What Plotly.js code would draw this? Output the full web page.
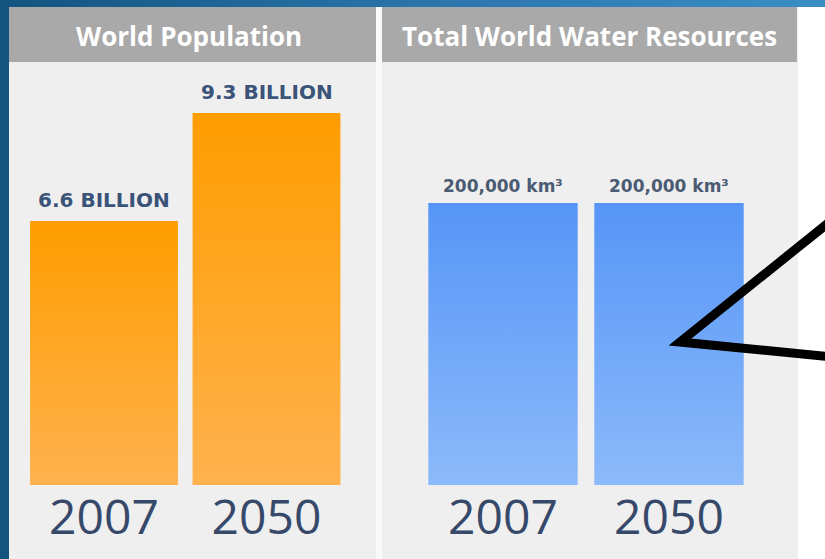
<!DOCTYPE html>
<html>
<head>
<meta charset="utf-8">
<script src="https://cdn.plot.ly/plotly-3.0.1.min.js"></script>
<style>
  html, body { margin: 0; padding: 0; background: #ffffff; }
  #chart { width: 825px; height: 559px; }
</style>
</head>
<body>
<div id="chart"></div>
<script>
// ---- data ----
const years = ['2007', '2050'];
const population = [6.6, 9.3];            // billions
const populationLabels = ['6.6 BILLION', '9.3 BILLION'];
const water = [200000, 200000];            // km³
const waterLabels = ['200,000 km³', '200,000 km³'];
const panelTitles = ['World Population', 'Total World Water Resources'];

// ---- helpers: pixel -> paper fraction ----
const W = 825, H = 559;
const px = x => x / W;
const py = y => 1 - y / H;
function rect(x0, y0, x1, y1, color, layer) {
  return { type: 'rect', xref: 'paper', yref: 'paper', x0: px(x0), x1: px(x1), y0: py(y1), y1: py(y0),
           fillcolor: color, line: { width: 0 }, layer: layer || 'below' };
}

const ORANGE_KEY = 'rgb(255, 165, 20)';
const BLUE_KEY = 'rgb(100, 160, 250)';
const FRAME_KEY = 'rgb(30, 100, 150)';

const traces = [
  { type: 'bar', x: years, y: population, xaxis: 'x', yaxis: 'y', width: 0.91,
    marker: { color: ORANGE_KEY, line: { width: 0 } }, hoverinfo: 'skip' },
  { type: 'bar', x: years, y: water, xaxis: 'x2', yaxis: 'y2', width: 0.9,
    marker: { color: BLUE_KEY, line: { width: 0 } }, hoverinfo: 'skip' }
];

const yearFont = { family: 'Open Sans, Noto Sans, sans-serif', size: 48, color: '#37496a' };

const annotations = [];
panelTitles.forEach((t, i) => {
  annotations.push({ xref: 'paper', yref: 'paper', x: px(i === 0 ? 189 : 589), y: py(36),
    text: '<b>' + t + '</b>', showarrow: false, xanchor: 'center', yanchor: 'middle',
    font: { family: 'Open Sans, sans-serif', size: 26, color: '#ffffff' } });
});
years.forEach((yr, i) => {
  annotations.push({ xref: 'x', yref: 'y', x: i, y: population[i], xanchor: 'center', yanchor: 'middle', yshift: 21,
    text: '<b>' + populationLabels[i] + '</b>', showarrow: false,
    font: { family: 'DejaVu Sans, sans-serif', size: 20, color: '#3a5379' } });
  annotations.push({ xref: 'x2', yref: 'y2', x: i, y: water[i], xanchor: 'center', yanchor: 'middle', yshift: 17,
    text: '<b>' + waterLabels[i] + '</b>', showarrow: false,
    font: { family: 'DejaVu Sans, sans-serif', size: 17, color: '#4a5b72' } });
});

const shapes = [
  rect(0, 0, 825, 559, FRAME_KEY),
  rect(798, 7, 825, 559, '#ffffff'),
  rect(9, 7, 376, 559, '#efefef'),
  rect(376, 7, 382, 559, '#f9f9f9'),
  rect(382, 7, 798, 559, '#efefef'),
  rect(9, 7, 376, 62, '#a9a9a9'),
  rect(382, 7, 797, 62, '#a9a9a9'),
  { type: 'path', xref: 'paper', yref: 'paper', layer: 'above',
    path: 'M ' + px(832) + ' ' + py(220) + ' L ' + px(680) + ' ' + py(342) + ' L ' + px(832) + ' ' + py(357),
    line: { color: '#000000', width: 9 } }
];

const axisX = { type: 'category', range: [-0.5, 1.5], showgrid: false, zeroline: false, showline: false,
                ticks: '', tickfont: yearFont, fixedrange: true };
const layout = {
  width: W, height: H,
  margin: { l: 0, r: 0, t: 0, b: 0 },
  paper_bgcolor: '#ffffff',
  plot_bgcolor: 'rgba(0,0,0,0)',
  showlegend: false,
  xaxis: Object.assign({}, axisX, { domain: [px(22.75), px(347.75)], anchor: 'y' }),
  xaxis2: Object.assign({}, axisX, { domain: [px(420), px(752)], anchor: 'y2' }),
  yaxis: { domain: [py(485), py(85)], range: [0, 10], visible: false, fixedrange: true },
  yaxis2: { domain: [py(485), py(85)], range: [0, 200000 * 400 / 282], visible: false, fixedrange: true, anchor: 'x2' },
  shapes: shapes,
  annotations: annotations
};

function addGradients() {
  const svg = document.querySelector('#chart .main-svg');
  if (!svg) return;
  let defs = svg.querySelector('defs');
  if (!defs) { defs = document.createElementNS('http://www.w3.org/2000/svg', 'defs'); svg.insertBefore(defs, svg.firstChild); }
  const grads = [
    { id: 'gOrange', x2: 0, y2: 1, stops: [['0', '#ff9d00'], ['1', '#ffb24e']] },
    { id: 'gBlue', x2: 0, y2: 1, stops: [['0', '#5695f7'], ['1', '#8cbafa']] },
    { id: 'gFrame', x2: 1, y2: 0, stops: [['0', '#13547f'], ['0.5', '#2a74aa'], ['1', '#3b8dc6']] }
  ];
  grads.forEach(g => {
    if (defs.querySelector('#' + g.id)) return;
    const lg = document.createElementNS('http://www.w3.org/2000/svg', 'linearGradient');
    lg.setAttribute('id', g.id);
    lg.setAttribute('x1', '0'); lg.setAttribute('y1', '0');
    lg.setAttribute('x2', String(g.x2)); lg.setAttribute('y2', String(g.y2));
    g.stops.forEach(s => {
      const st = document.createElementNS('http://www.w3.org/2000/svg', 'stop');
      st.setAttribute('offset', s[0]); st.setAttribute('stop-color', s[1]);
      lg.appendChild(st);
    });
    defs.appendChild(lg);
  });
  document.querySelectorAll('#chart path').forEach(p => {
    const f = p.style.fill;
    if (f === ORANGE_KEY) p.style.fill = 'url(#gOrange)';
    else if (f === BLUE_KEY) p.style.fill = 'url(#gBlue)';
    else if (f === FRAME_KEY) p.style.fill = 'url(#gFrame)';
  });
}

const gd = document.getElementById('chart');
Plotly.newPlot(gd, traces, layout, { displayModeBar: false, staticPlot: true }).then(() => {
  addGradients();
  gd.on && gd.on('plotly_afterplot', addGradients);
});
</script>
</body>
</html>
